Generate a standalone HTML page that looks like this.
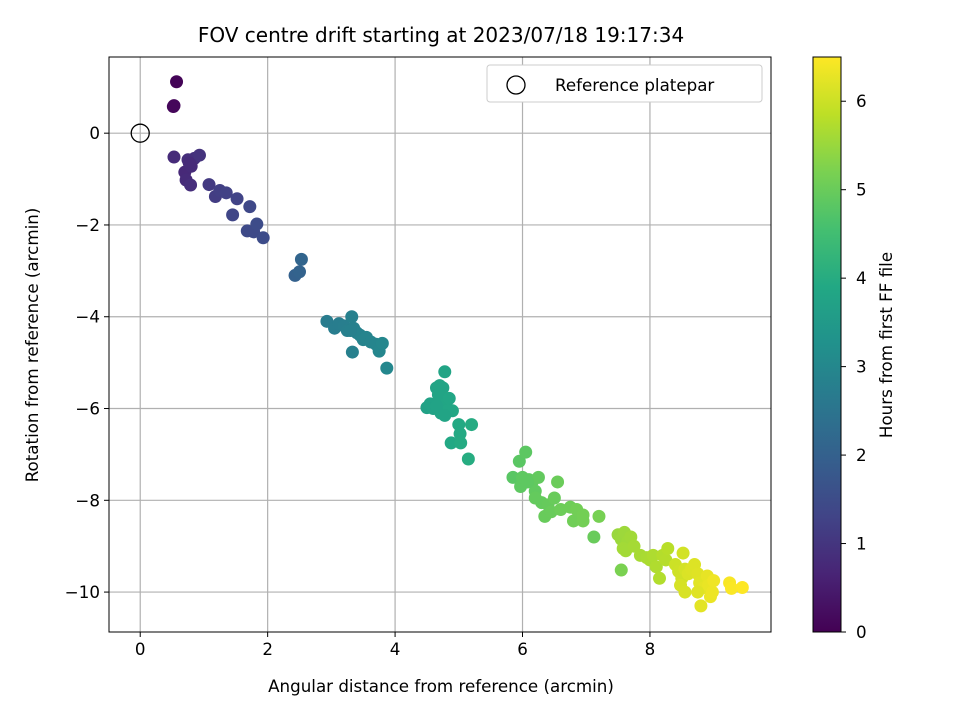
<!DOCTYPE html>
<html><head><meta charset="utf-8"><style>
body{margin:0;background:#fff}
svg text{font-family:"DejaVu Sans","Liberation Sans",sans-serif;fill:#000}
</style></head><body>
<svg id="chart" width="960" height="720" xmlns="http://www.w3.org/2000/svg">
<defs><linearGradient id="vir" x1="0" y1="1" x2="0" y2="0">
<stop offset="0" stop-color="#440154"/><stop offset="0.1" stop-color="#482475"/><stop offset="0.2" stop-color="#414487"/><stop offset="0.3" stop-color="#355f8d"/><stop offset="0.4" stop-color="#2a788e"/><stop offset="0.5" stop-color="#21918c"/><stop offset="0.6" stop-color="#22a884"/><stop offset="0.7" stop-color="#44bf70"/><stop offset="0.8" stop-color="#7ad151"/><stop offset="0.9" stop-color="#bddf26"/><stop offset="1" stop-color="#fde725"/></linearGradient></defs>
<text x="441" y="42" font-size="20" text-anchor="middle">FOV centre drift starting at 2023/07/18 19:17:34</text>
<g id="grid"></g><g id="pts"></g><g id="axes"></g>
<text x="441" y="692" font-size="16.7" text-anchor="middle">Angular distance from reference (arcmin)</text>
<text transform="translate(38,345) rotate(-90)" font-size="16.7" text-anchor="middle">Rotation from reference (arcmin)</text>
<g>
<rect x="487" y="65" width="275" height="37" rx="3" fill="#fff" stroke="#ccc"/>
<circle cx="516" cy="85" r="9" fill="none" stroke="#000" stroke-width="1.3"/>
<text x="555" y="91" font-size="16.7">Reference platepar</text></g>
<rect x="813" y="57" width="28" height="575" fill="url(#vir)" stroke="#000" stroke-width="1"/>
<g id="cbticks"></g>
<text transform="translate(892,345) rotate(-90)" font-size="16.7" text-anchor="middle">Hours from first FF file</text>
</svg>
<script>
const xs=[0.57,0.52,0.53, 0.53,0.75,0.85,0.93,0.7,0.72,0.79,0.8,0.77, 1.08,1.18,1.25,1.35,1.52,1.45,1.72,1.68,1.78,1.83,1.93, 2.43,2.5,2.53,
2.93,3.05,3.12,3.2,3.25,3.32,3.35,3.4,3.45,3.5,3.55,3.62,3.7,3.75,3.8,3.33,3.87,3.3,
4.5,4.55,4.6,4.65,4.7,4.75,4.72,4.68,4.78,4.8,4.85,4.9,4.72,4.82,4.88,5.0,5.02,5.03,5.2,5.15,4.65,4.78,
5.85,5.95,6.05,5.97,6.0,6.1,6.15,6.2,6.25,6.3,6.2,6.4,6.35,6.45,6.5,6.55,6.6,6.75,6.8,6.85,6.95,6.95,7.12,7.2,6.08,
7.5,7.55,7.6,7.65,7.7,7.58,7.62,7.75,7.55,7.85,7.95,8.0,8.05,8.1,8.15,8.2,8.25,8.28,
8.4,8.45,8.5,8.52,8.55,8.48,8.55,8.6,8.65,8.7,8.75,8.78,8.8,8.85,8.9,8.92,8.95,8.98,9.0,9.25,9.28,9.45,8.75];
const ys=[1.12,0.58,0.6, -0.52,-0.58,-0.55,-0.48,-0.85,-1.02,-1.13,-0.72,-0.65, -1.12,-1.38,-1.25,-1.3,-1.43,-1.78,-1.6,-2.13,-2.15,-1.98,-2.28, -3.1,-3.02,-2.75,
-4.1,-4.25,-4.15,-4.2,-4.3,-4.0,-4.25,-4.35,-4.4,-4.5,-4.45,-4.55,-4.6,-4.75,-4.58,-4.77,-5.12,-4.3,
-5.98,-5.9,-6.0,-5.55,-5.5,-5.55,-5.85,-5.7,-5.2,-5.9,-5.78,-6.05,-6.1,-6.05,-6.75,-6.35,-6.55,-6.75,-6.35,-7.1,-5.95,-6.15,
-7.5,-7.15,-6.95,-7.7,-7.5,-7.55,-7.6,-7.8,-7.5,-8.05,-7.95,-8.1,-8.35,-8.25,-7.95,-7.6,-8.2,-8.15,-8.45,-8.2,-8.45,-8.32,-8.8,-8.35,-7.6,
-8.75,-8.85,-8.7,-8.9,-8.8,-9.05,-9.1,-9.0,-9.52,-9.2,-9.25,-9.3,-9.2,-9.45,-9.7,-9.2,-9.3,-9.05,
-9.4,-9.55,-9.7,-9.15,-9.5,-9.85,-10.0,-9.6,-9.5,-9.4,-9.6,-9.8,-10.3,-9.9,-9.65,-9.85,-10.1,-10.0,-9.75,-9.8,-9.92,-9.9,-10.0];
const hours=[0.05,0.1,0.12, 0.8,0.85,0.9,0.95,0.75,0.8,0.85,0.8,0.8, 1.1,1.15,1.2,1.25,1.3,1.35,1.4,1.45,1.45,1.5,1.5, 2.0,2.05,2.1,
2.7,2.72,2.74,2.76,2.78,2.8,2.82,2.84,2.86,2.88,2.9,2.92,2.94,2.96,2.98,2.8,3.0,2.8,
3.7,3.72,3.74,3.76,3.78,3.8,3.8,3.8,3.8,3.82,3.84,3.86,3.8,3.84,3.9,3.92,3.94,3.96,3.98,4.0,3.75,3.8,
4.8,4.82,4.84,4.86,4.86,4.88,4.9,4.9,4.92,4.94,4.94,4.96,4.98,5.0,5.0,5.02,5.04,5.06,5.08,5.1,5.12,5.12,5.0,5.15,4.86,
5.5,5.52,5.54,5.56,5.58,5.6,5.6,5.62,5.2,5.64,5.66,5.68,5.7,5.72,5.74,5.76,5.78,5.8,
6.0,6.02,6.04,6.06,6.08,6.1,6.12,6.14,6.16,6.18,6.2,6.22,6.24,6.26,6.28,6.3,6.32,6.34,6.36,6.45,6.47,6.5,6.2];
const xTicks=[0,2,4,6,8];
const yTicks=[0,-2,-4,-6,-8,-10];
const cbTicks=[0,1,2,3,4,5,6];
const X0=109,X1=771,Y0=57,Y1=632,xmin=-0.49,xmax=9.9,ymin=-10.87,ymax=1.66,hmax=6.5;
const sx=v=>X0+(v-xmin)/(xmax-xmin)*(X1-X0);
const sy=v=>Y1-(v-ymin)/(ymax-ymin)*(Y1-Y0);
const sh=v=>Y1-v/hmax*(Y1-Y0);
const vir=["#440154","#482475","#414487","#355f8d","#2a788e","#21918c","#22a884","#44bf70","#7ad151","#bddf26","#fde725"];
function col(h){let t=Math.max(0,Math.min(1,h/hmax))*10;let i=Math.min(9,Math.floor(t)),f=t-i;
const a=vir[i],b=vir[i+1];const p=(s,k)=>parseInt(s.substr(k,2),16);
let c=[1,3,5].map(k=>Math.round(p(a,k)+(p(b,k)-p(a,k))*f));return `rgb(${c})`;}
const NS="http://www.w3.org/2000/svg";
function mk(tag,attrs,parent){const e=document.createElementNS(NS,tag);for(const k in attrs)e.setAttribute(k,attrs[k]);parent.appendChild(e);return e;}
const grid=document.getElementById('grid'),axes=document.getElementById('axes'),pts=document.getElementById('pts'),cbt=document.getElementById('cbticks');
xTicks.forEach(v=>{const x=sx(v);
const g=mk('line',{x1:x,x2:x,y1:Y0,y2:Y1,stroke:'#b0b0b0','stroke-width':1.2},grid);


mk('line',{x1:x,x2:x,y1:Y1,y2:Y1+5,stroke:'#000'},axes);
const t=mk('text',{x:x,y:Y1+23,'font-size':16.7,'text-anchor':'middle'},axes);t.textContent=String(v).replace('-','\u2212');

});
yTicks.forEach(v=>{const y=sy(v);
const g=mk('line',{x1:X0,x2:X1,y1:y,y2:y,stroke:'#b0b0b0','stroke-width':1.2},grid);


mk('line',{x1:X0-5,x2:X0,y1:y,y2:y,stroke:'#000'},axes);
const t=mk('text',{x:X0-9,y:y+6,'font-size':16.7,'text-anchor':'end'},axes);t.textContent=String(v).replace('-','\u2212');

});
const fr=mk('rect',{x:X0,y:Y0,width:X1-X0,height:Y1-Y0,fill:'none',stroke:'#000','stroke-width':1},axes);


xs.forEach((v,i)=>{const c=mk('circle',{cx:sx(v),cy:sy(ys[i]),r:6.5,fill:col(hours[i])},pts);

});
const ref=mk('circle',{cx:sx(0),cy:sy(0),r:9,fill:'none',stroke:'#000','stroke-width':1.3},pts);


cbTicks.forEach(v=>{const y=sh(v);mk('line',{x1:841,x2:846,y1:y,y2:y,stroke:'#000'},cbt);
const t=mk('text',{x:856,y:y+6,'font-size':16.7},cbt);t.textContent=v;

});
</script>
</body></html>
